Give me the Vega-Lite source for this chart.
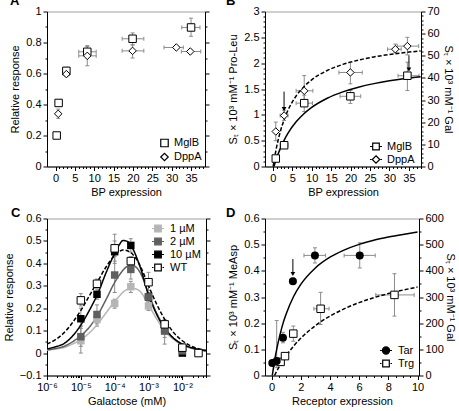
{
"$schema":"https://vega.github.io/schema/vega-lite/v6.json",
"background":"white",
"padding":{"left":2,"top":-5.5,"right":2,"bottom":2},
"columns":2,
"spacing":{"row":52,"column":59},
"bounds":"flush",
"align":"each",
"resolve":{"scale":{"fill":"independent","stroke":"independent","shape":"independent","color":"independent","strokeDash":"independent"},"legend":{"fill":"independent","stroke":"independent","shape":"independent","color":"independent","strokeDash":"independent"}},
"config":{
 "font":"Liberation Sans",
 "view":{"stroke":"#9e9e9e","strokeWidth":1},
 "axis":{"grid":false,"labelFontSize":11,"titleFontSize":11,"titleFontWeight":"normal","labelColor":"black","titleColor":"black","domainColor":"black","tickColor":"black","tickSize":4,"tickWidth":1,"domainWidth":1,"labelPadding":2,"titlePadding":4,"labelFlush":false,"labelOverlap":false,"labelBound":false,"labelFont":"Liberation Sans","titleFont":"Liberation Sans"},
 "legend":{"labelFontSize":11,"labelColor":"black","labelFont":"Liberation Sans","padding":0,"rowPadding":0,"labelOffset":4,"symbolStrokeWidth":1.2,"symbolOpacity":1},
 "title":{"fontSize":13,"fontWeight":"bold","color":"black","font":"Liberation Sans","anchor":"start","frame":"group"},
 "tick":{"thickness":1,"size":4,"opacity":1,"color":"#8c8c8c"}
},
"datasets":{
 "A":[
  {"s":"MglB","x":0.3,"y":0.2,"xlo":0.1,"xhi":0.5,"ylo":0.185,"yhi":0.215},
  {"s":"MglB","x":0.8,"y":0.41,"xlo":0.5,"xhi":1.1,"ylo":0.39,"yhi":0.43},
  {"s":"MglB","x":2.8,"y":0.617,"xlo":2.0,"xhi":3.6,"ylo":0.595,"yhi":0.64},
  {"s":"MglB","x":8.2,"y":0.74,"xlo":6.0,"xhi":10.5,"ylo":0.71,"yhi":0.775},
  {"s":"MglB","x":19.9,"y":0.824,"xlo":17.2,"xhi":22.8,"ylo":0.785,"yhi":0.862},
  {"s":"MglB","x":35,"y":0.897,"xlo":32.6,"xhi":37.3,"ylo":0.84,"yhi":0.957},
  {"s":"DppA","x":0.7,"y":0.34,"xlo":0.5,"xhi":0.9,"ylo":0.31,"yhi":0.37},
  {"s":"DppA","x":2.8,"y":0.596,"xlo":2.0,"xhi":3.6,"ylo":0.58,"yhi":0.615},
  {"s":"DppA","x":8.2,"y":0.714,"xlo":6.0,"xhi":10.5,"ylo":0.65,"yhi":0.78},
  {"s":"DppA","x":19.9,"y":0.746,"xlo":17.2,"xhi":22.8,"ylo":0.70,"yhi":0.785},
  {"s":"DppA","x":31.2,"y":0.768,"xlo":28.0,"xhi":33.0,"ylo":0.76,"yhi":0.776},
  {"s":"DppA","x":34.8,"y":0.742,"xlo":32.5,"xhi":37.5,"ylo":0.73,"yhi":0.755}
 ],
 "Bd":[
  {"x":0.77,"y":0.677,"xlo":0.5,"xhi":1.05,"ylo":0.5,"yhi":0.86},
  {"x":2.92,"y":0.987,"xlo":1.9,"xhi":3.9,"ylo":0.89,"yhi":1.09},
  {"x":8.08,"y":1.465,"xlo":6.0,"xhi":10.3,"ylo":1.18,"yhi":1.76},
  {"x":19.95,"y":1.82,"xlo":17.0,"xhi":23.0,"ylo":1.6,"yhi":2.02},
  {"x":31.5,"y":2.27,"xlo":29.5,"xhi":33.0,"ylo":2.2,"yhi":2.37},
  {"x":34.6,"y":2.33,"xlo":32.0,"xhi":37.5,"ylo":2.16,"yhi":2.5}
 ],
 "Bm":[
  {"x":0.77,"y":3.6,"xlo":0.5,"xhi":1.05,"ylo":2.5,"yhi":4.7},
  {"x":2.92,"y":9.6,"xlo":1.9,"xhi":3.9,"ylo":8.6,"yhi":10.6},
  {"x":8.08,"y":28.6,"xlo":6.0,"xhi":10.2,"ylo":24.8,"yhi":32.2},
  {"x":19.95,"y":31.7,"xlo":17.3,"xhi":22.6,"ylo":28.5,"yhi":34.3},
  {"x":34.6,"y":41.0,"xlo":32.2,"xhi":37.6,"ylo":34.3,"yhi":47.1}
 ],
 "Bcd":[{"x":0.1,"y":0},{"x":0.5,"y":0.186},{"x":1,"y":0.383},{"x":2,"y":0.692},{"x":3,"y":0.924},{"x":4,"y":1.103},{"x":6,"y":1.365},{"x":8,"y":1.545},{"x":10,"y":1.678},{"x":14,"y":1.858},{"x":18,"y":1.976},{"x":22,"y":2.059},{"x":26,"y":2.121},{"x":30,"y":2.168},{"x":34,"y":2.206},{"x":38,"y":2.236}],
 "Bcm":[{"x":0.3,"y":0},{"x":1,"y":3.85},{"x":2,"y":8.42},{"x":3,"y":12.16},{"x":4,"y":15.28},{"x":6,"y":20.17},{"x":8,"y":23.84},{"x":10,"y":26.69},{"x":14,"y":30.84},{"x":18,"y":33.71},{"x":22,"y":35.82},{"x":26,"y":37.43},{"x":30,"y":38.7},{"x":34,"y":39.73},{"x":38,"y":40.58}],
 "Bad":[{"x":2.9,"ytop":1.45,"ybot":1.11}],
 "Bam":[{"x":35.0,"ytop":50.2,"ybot":43.8}],
 "Cp":[
  {"s":"1 µM","x":1e-5,"y":0.055,"ylo":0.0,"yhi":0.12},
  {"s":"1 µM","x":3e-5,"y":0.15,"ylo":0.12,"yhi":0.18},
  {"s":"1 µM","x":1e-4,"y":0.221,"ylo":0.2,"yhi":0.24},
  {"s":"1 µM","x":3e-4,"y":0.296,"ylo":0.27,"yhi":0.32},
  {"s":"1 µM","x":1e-3,"y":0.21,"ylo":0.19,"yhi":0.23},
  {"s":"1 µM","x":3e-3,"y":0.1,"ylo":0.04,"yhi":0.13},
  {"s":"1 µM","x":1e-2,"y":0.02,"ylo":0.01,"yhi":0.03},
  {"s":"10 µM","x":1e-5,"y":0.153,"ylo":0.11,"yhi":0.2},
  {"s":"10 µM","x":3e-5,"y":0.262,"ylo":0.24,"yhi":0.285},
  {"s":"10 µM","x":1e-4,"y":0.452,"ylo":0.41,"yhi":0.5},
  {"s":"10 µM","x":3e-4,"y":0.48,"ylo":0.45,"yhi":0.51},
  {"s":"10 µM","x":1e-3,"y":0.25,"ylo":0.23,"yhi":0.27},
  {"s":"10 µM","x":3e-3,"y":0.105,"ylo":0.09,"yhi":0.12},
  {"s":"10 µM","x":1e-2,"y":0.0,"ylo":-0.01,"yhi":0.01},
  {"s":"2 µM","x":1e-5,"y":0.073,"ylo":0.03,"yhi":0.12},
  {"s":"2 µM","x":3e-5,"y":0.172,"ylo":0.13,"yhi":0.215},
  {"s":"2 µM","x":1e-4,"y":0.348,"ylo":0.27,"yhi":0.43},
  {"s":"2 µM","x":3e-4,"y":0.373,"ylo":0.33,"yhi":0.41},
  {"s":"2 µM","x":1e-3,"y":0.25,"ylo":0.23,"yhi":0.27},
  {"s":"2 µM","x":3e-3,"y":0.098,"ylo":0.07,"yhi":0.13},
  {"s":"2 µM","x":1e-2,"y":0.01,"ylo":0.0,"yhi":0.02},
  {"s":"WT","x":1e-5,"y":0.235,"ylo":0.21,"yhi":0.265},
  {"s":"WT","x":3e-5,"y":0.309,"ylo":0.29,"yhi":0.33},
  {"s":"WT","x":1e-4,"y":0.467,"ylo":0.4,"yhi":0.53},
  {"s":"WT","x":3e-4,"y":0.41,"ylo":0.39,"yhi":0.43},
  {"s":"WT","x":1e-3,"y":0.316,"ylo":0.28,"yhi":0.36},
  {"s":"WT","x":3e-3,"y":0.128,"ylo":0.1,"yhi":0.15},
  {"s":"WT","x":1e-2,"y":0.024,"ylo":0.01,"yhi":0.04},
  {"s":"WT","x":3e-2,"y":0.0,"ylo":-0.01,"yhi":0.01}
 ],
 "Cc":[
  {"s":"1 µM","x":1e-6,"y":0.012},{"s":"1 µM","x":1.778e-6,"y":0.018},{"s":"1 µM","x":3.162e-6,"y":0.025},{"s":"1 µM","x":5.623e-6,"y":0.04},{"s":"1 µM","x":1e-5,"y":0.06},{"s":"1 µM","x":1.778e-5,"y":0.09},{"s":"1 µM","x":3.162e-5,"y":0.13},{"s":"1 µM","x":5.623e-5,"y":0.18},{"s":"1 µM","x":1e-4,"y":0.23},{"s":"1 µM","x":1.334e-4,"y":0.252},{"s":"1 µM","x":1.778e-4,"y":0.272},{"s":"1 µM","x":2.371e-4,"y":0.284},{"s":"1 µM","x":3.162e-4,"y":0.29},{"s":"1 µM","x":5.623e-4,"y":0.275},{"s":"1 µM","x":1e-3,"y":0.215},{"s":"1 µM","x":1.778e-3,"y":0.15},{"s":"1 µM","x":3.162e-3,"y":0.095},{"s":"1 µM","x":5.623e-3,"y":0.06},{"s":"1 µM","x":1e-2,"y":0.035},{"s":"1 µM","x":1.778e-2,"y":0.022},{"s":"1 µM","x":3.162e-2,"y":0.013},{"s":"1 µM","x":5e-2,"y":0.009},
  {"s":"2 µM","x":1e-6,"y":0.015},{"s":"2 µM","x":1.778e-6,"y":0.02},{"s":"2 µM","x":3.162e-6,"y":0.03},{"s":"2 µM","x":5.623e-6,"y":0.05},{"s":"2 µM","x":1e-5,"y":0.077},{"s":"2 µM","x":1.778e-5,"y":0.115},{"s":"2 µM","x":3.162e-5,"y":0.17},{"s":"2 µM","x":5.623e-5,"y":0.24},{"s":"2 µM","x":1e-4,"y":0.315},{"s":"2 µM","x":1.334e-4,"y":0.345},{"s":"2 µM","x":1.778e-4,"y":0.37},{"s":"2 µM","x":2.371e-4,"y":0.387},{"s":"2 µM","x":3.162e-4,"y":0.392},{"s":"2 µM","x":5.623e-4,"y":0.36},{"s":"2 µM","x":1e-3,"y":0.265},{"s":"2 µM","x":1.778e-3,"y":0.175},{"s":"2 µM","x":3.162e-3,"y":0.11},{"s":"2 µM","x":5.623e-3,"y":0.065},{"s":"2 µM","x":1e-2,"y":0.04},{"s":"2 µM","x":1.778e-2,"y":0.024},{"s":"2 µM","x":3.162e-2,"y":0.015},{"s":"2 µM","x":5e-2,"y":0.01},
  {"s":"10 µM","x":1e-6,"y":0.019},{"s":"10 µM","x":1.778e-6,"y":0.028},{"s":"10 µM","x":3.162e-6,"y":0.042},{"s":"10 µM","x":5.623e-6,"y":0.075},{"s":"10 µM","x":1e-5,"y":0.125},{"s":"10 µM","x":1.778e-5,"y":0.19},{"s":"10 µM","x":3.162e-5,"y":0.265},{"s":"10 µM","x":5.623e-5,"y":0.36},{"s":"10 µM","x":1e-4,"y":0.445},{"s":"10 µM","x":1.334e-4,"y":0.48},{"s":"10 µM","x":1.778e-4,"y":0.502},{"s":"10 µM","x":2.371e-4,"y":0.498},{"s":"10 µM","x":3.162e-4,"y":0.475},{"s":"10 µM","x":5.623e-4,"y":0.385},{"s":"10 µM","x":1e-3,"y":0.26},{"s":"10 µM","x":1.778e-3,"y":0.17},{"s":"10 µM","x":3.162e-3,"y":0.105},{"s":"10 µM","x":5.623e-3,"y":0.065},{"s":"10 µM","x":1e-2,"y":0.04},{"s":"10 µM","x":1.778e-2,"y":0.025},{"s":"10 µM","x":3.162e-2,"y":0.016},{"s":"10 µM","x":5e-2,"y":0.011},
  {"s":"WT","x":1e-6,"y":0.04},{"s":"WT","x":1.778e-6,"y":0.06},{"s":"WT","x":3.162e-6,"y":0.09},{"s":"WT","x":5.623e-6,"y":0.135},{"s":"WT","x":1e-5,"y":0.19},{"s":"WT","x":1.778e-5,"y":0.255},{"s":"WT","x":3.162e-5,"y":0.32},{"s":"WT","x":5.623e-5,"y":0.385},{"s":"WT","x":1e-4,"y":0.435},{"s":"WT","x":1.334e-4,"y":0.452},{"s":"WT","x":1.778e-4,"y":0.46},{"s":"WT","x":2.371e-4,"y":0.456},{"s":"WT","x":3.162e-4,"y":0.445},{"s":"WT","x":5.623e-4,"y":0.39},{"s":"WT","x":1e-3,"y":0.3},{"s":"WT","x":1.778e-3,"y":0.215},{"s":"WT","x":3.162e-3,"y":0.145},{"s":"WT","x":5.623e-3,"y":0.09},{"s":"WT","x":1e-2,"y":0.055},{"s":"WT","x":1.778e-2,"y":0.032},{"s":"WT","x":3.162e-2,"y":0.018},{"s":"WT","x":5e-2,"y":0.012}
 ],
 "Dt":[
  {"x":0.05,"y":0.048,"xlo":0.0,"xhi":0.1,"ylo":0.042,"yhi":0.054},
  {"x":0.35,"y":0.055,"xlo":0.22,"xhi":0.48,"ylo":0.03,"yhi":0.21},
  {"x":0.78,"y":0.144,"xlo":0.66,"xhi":0.9,"ylo":0.125,"yhi":0.165},
  {"x":1.46,"y":0.36,"xlo":1.26,"xhi":1.66,"ylo":0.348,"yhi":0.372},
  {"x":2.97,"y":0.459,"xlo":2.22,"xhi":3.7,"ylo":0.43,"yhi":0.488},
  {"x":6.04,"y":0.459,"xlo":4.97,"xhi":7.1,"ylo":0.411,"yhi":0.507}
 ],
 "Dg":[
  {"x":0.62,"y":52,"xlo":0.5,"xhi":0.75,"ylo":40,"yhi":64},
  {"x":0.92,"y":74,"xlo":0.8,"xhi":1.05,"ylo":64,"yhi":84},
  {"x":1.49,"y":160,"xlo":1.3,"xhi":1.7,"ylo":131,"yhi":189},
  {"x":3.36,"y":255,"xlo":2.9,"xhi":3.94,"ylo":195,"yhi":318},
  {"x":8.42,"y":308,"xlo":7.14,"xhi":9.77,"ylo":227,"yhi":389}
 ],
 "Dct":[{"x":0.05,"y":0},{"x":0.2,"y":0.054},{"x":0.4,"y":0.113},{"x":0.6,"y":0.161},{"x":0.8,"y":0.202},{"x":1,"y":0.235},{"x":1.5,"y":0.301},{"x":2,"y":0.348},{"x":3,"y":0.411},{"x":4,"y":0.452},{"x":5,"y":0.48},{"x":6,"y":0.501},{"x":7,"y":0.517},{"x":8,"y":0.529},{"x":9,"y":0.539},{"x":10,"y":0.548}],
 "Dcg":[{"x":0.2,"y":0},{"x":0.5,"y":31.3},{"x":1,"y":75.3},{"x":1.5,"y":111.7},{"x":2,"y":142.2},{"x":3,"y":190.4},{"x":4,"y":226.9},{"x":5,"y":255.5},{"x":6,"y":278.5},{"x":7,"y":297.3},{"x":8,"y":313.1},{"x":9,"y":326.5},{"x":10,"y":338.0}],
 "Da":[{"x":1.46,"ytop":0.445,"ybot":0.388}],
 "LA":[{"s":"MglB"},{"s":"DppA"}],
 "LC":[{"s":"1 µM"},{"s":"2 µM"},{"s":"10 µM"},{"s":"WT"}],
 "LD":[{"s":"Tar"},{"s":"Trg"}]
},
"concat":[
 {
  "width":158,"height":155,
  "title":{"text":"A","dx":-37,"offset":-2.5},
  "resolve":{"axis":{"x":"independent","y":"independent"}},
  "layer":[
   {"data":{"name":"A"},"mark":{"type":"rule","color":"#8c8c8c"},
    "encoding":{
     "x":{"field":"xlo","type":"quantitative","scale":{"domain":[-2.2,38.6],"nice":false,"zero":false},
      "axis":{"orient":"bottom","labelOverlap":false,"values":[0,1,2,3,4,5,6,7,8,9,10,11,12,13,14,15,16,17,18,19,20,21,22,23,24,25,26,27,28,29,30,31,32,33,34,35,36,37,38],"format":"~r","labelExpr":"datum.value % 5 == 0 ? datum.label : ''","tickDash":{"condition":{"test":"datum.value % 5 == 0","value":[4,0]},"value":[2,2]},"title":"BP expression","titlePadding":3}},
     "x2":{"field":"xhi"},
     "y":{"field":"y","type":"quantitative","scale":{"domain":[0,1],"nice":false,"zero":false},
      "axis":{"orient":"left","labelOverlap":false,"values":[0,0.1,0.2,0.3,0.4,0.5,0.6,0.7,0.8,0.9,1],"format":"~r","labelExpr":"round(datum.value*10) % 2 == 0 ? datum.label : ''","tickDash":{"condition":{"test":"round(datum.value*10) % 2 == 0","value":[4,0]},"value":[2,2]},"title":"Relative response","titlePadding":5}}}},
   {"data":{"name":"A"},"mark":{"type":"rule","color":"#8c8c8c"},
    "encoding":{
     "x":{"field":"x","type":"quantitative","scale":{"domain":[-2.2,38.6],"nice":false,"zero":false},"axis":null},
     "y":{"field":"ylo","type":"quantitative","scale":{"domain":[0,1],"nice":false,"zero":false},
      "axis":{"orient":"right","labelOverlap":false,"values":[0,0.1,0.2,0.3,0.4,0.5,0.6,0.7,0.8,0.9,1],"labels":false,"tickDash":{"condition":{"test":"round(datum.value*10) % 2 == 0","value":[4,0]},"value":[2,2]},"title":null}},
     "y2":{"field":"yhi"}}},
   {"data":{"name":"A"},"mark":{"type":"tick","orient":"vertical"},
    "encoding":{"x":{"field":"xlo","type":"quantitative","axis":null},"y":{"field":"y","type":"quantitative","axis":null}}},
   {"data":{"name":"A"},"mark":{"type":"tick","orient":"vertical"},
    "encoding":{"x":{"field":"xhi","type":"quantitative","axis":null},"y":{"field":"y","type":"quantitative","axis":null}}},
   {"data":{"name":"A"},"mark":{"type":"tick","orient":"horizontal"},
    "encoding":{"x":{"field":"x","type":"quantitative","axis":null},"y":{"field":"ylo","type":"quantitative","axis":null}}},
   {"data":{"name":"A"},"mark":{"type":"tick","orient":"horizontal"},
    "encoding":{"x":{"field":"x","type":"quantitative","axis":null},"y":{"field":"yhi","type":"quantitative","axis":null}}},
   {"data":{"name":"A"},"mark":{"type":"point","filled":true,"fill":"white","stroke":"black","strokeWidth":1,"size":56,"opacity":1},
    "encoding":{
     "x":{"field":"x","type":"quantitative","scale":{"domain":[-2.2,38.6],"nice":false,"zero":false},"axis":null},
     "y":{"field":"y","type":"quantitative","scale":{"domain":[0,1],"nice":false,"zero":false},"axis":null},
     "shape":{"field":"s","type":"nominal","scale":{"domain":["MglB","DppA"],"range":["square","diamond"]}}}},
   {"data":{"name":"LA"},"mark":{"type":"point","filled":true,"opacity":0},
    "encoding":{
     "fill":{"field":"s","type":"nominal","scale":{"domain":["MglB","DppA"],"range":["white","white"]},"legend":{"orient":"none","legendX":112,"legendY":126,"title":null,"symbolSize":56,"rowPadding":1,"labelOffset":4}},
     "stroke":{"field":"s","type":"nominal","scale":{"domain":["MglB","DppA"],"range":["black","black"]},"legend":{"orient":"none","legendX":112,"legendY":126,"title":null,"symbolSize":56,"rowPadding":1,"labelOffset":4}},
     "shape":{"field":"s","type":"nominal","scale":{"domain":["MglB","DppA"],"range":["square","diamond"]},"legend":{"orient":"none","legendX":112,"legendY":126,"title":null,"symbolSize":56,"rowPadding":1,"labelOffset":4}}}}
  ]
 },
 {
  "width":156,"height":155,
  "title":{"text":"B","dx":-39,"offset":-2.5},
  "resolve":{"scale":{"y":"independent"},"axis":{"x":"independent","y":"independent"}},
  "layer":[
   {"data":{"name":"Bd"},"mark":{"type":"rule","color":"#8c8c8c"},
    "encoding":{
     "x":{"field":"xlo","type":"quantitative","scale":{"domain":[-2,38.1],"nice":false,"zero":false},
      "axis":{"orient":"bottom","labelOverlap":false,"values":[0,1,2,3,4,5,6,7,8,9,10,11,12,13,14,15,16,17,18,19,20,21,22,23,24,25,26,27,28,29,30,31,32,33,34,35,36,37,38],"format":"~r","labelExpr":"datum.value % 5 == 0 ? datum.label : ''","tickDash":{"condition":{"test":"datum.value % 5 == 0","value":[4,0]},"value":[2,2]},"title":"BP expression","titlePadding":3}},
     "x2":{"field":"xhi"},
     "y":{"field":"y","type":"quantitative","scale":{"domain":[0,3],"nice":false,"zero":false},
      "axis":{"orient":"left","labelOverlap":false,"values":[0,0.1,0.2,0.3,0.4,0.5,0.6,0.7,0.8,0.9,1,1.1,1.2,1.3,1.4,1.5,1.6,1.7,1.8,1.9,2,2.1,2.2,2.3,2.4,2.5,2.6,2.7,2.8,2.9,3],"format":"~r","labelExpr":"round(datum.value*10) % 5 == 0 ? datum.label : ''","tickDash":{"condition":{"test":"round(datum.value*10) % 5 == 0","value":[4,0]},"value":[2,2]},"title":"Sₜ × 10³ mM⁻¹ Pro-Leu","titlePadding":5}}}},
   {"data":{"name":"Bd"},"mark":{"type":"rule","color":"#8c8c8c"},
    "encoding":{
     "x":{"field":"x","type":"quantitative","axis":null},
     "y":{"field":"ylo","type":"quantitative","scale":{"domain":[0,3],"nice":false,"zero":false},"axis":null},
     "y2":{"field":"yhi"}}},
   {"data":{"name":"Bd"},"mark":{"type":"tick","orient":"vertical"},
    "encoding":{"x":{"field":"xlo","type":"quantitative","axis":null},"y":{"field":"y","type":"quantitative","scale":{"domain":[0,3],"nice":false,"zero":false},"axis":null}}},
   {"data":{"name":"Bd"},"mark":{"type":"tick","orient":"vertical"},
    "encoding":{"x":{"field":"xhi","type":"quantitative","axis":null},"y":{"field":"y","type":"quantitative","scale":{"domain":[0,3],"nice":false,"zero":false},"axis":null}}},
   {"data":{"name":"Bd"},"mark":{"type":"tick","orient":"horizontal"},
    "encoding":{"x":{"field":"x","type":"quantitative","axis":null},"y":{"field":"ylo","type":"quantitative","scale":{"domain":[0,3],"nice":false,"zero":false},"axis":null}}},
   {"data":{"name":"Bd"},"mark":{"type":"tick","orient":"horizontal"},
    "encoding":{"x":{"field":"x","type":"quantitative","axis":null},"y":{"field":"yhi","type":"quantitative","scale":{"domain":[0,3],"nice":false,"zero":false},"axis":null}}},
   {"data":{"name":"Bm"},"mark":{"type":"rule","color":"#8c8c8c"},
    "encoding":{
     "x":{"field":"xlo","type":"quantitative","axis":null},
     "x2":{"field":"xhi"},
     "y":{"field":"y","type":"quantitative","scale":{"domain":[0,70],"nice":false,"zero":false},
      "axis":{"orient":"right","labelOverlap":false,"values":[0,2,4,6,8,10,12,14,16,18,20,22,24,26,28,30,32,34,36,38,40,42,44,46,48,50,52,54,56,58,60,62,64,66,68,70],"format":"~r","labelExpr":"datum.value % 10 == 0 ? datum.label : ''","tickDash":{"condition":{"test":"datum.value % 10 == 0","value":[4,0]},"value":[2,2]},"title":"Sₜ × 10³ mM⁻¹ Gal","titlePadding":3}}}},
   {"data":{"name":"Bm"},"mark":{"type":"rule","color":"#8c8c8c"},
    "encoding":{
     "x":{"field":"x","type":"quantitative","axis":null},
     "y":{"field":"ylo","type":"quantitative","scale":{"domain":[0,70],"nice":false,"zero":false},"axis":null},
     "y2":{"field":"yhi"}}},
   {"data":{"name":"Bm"},"mark":{"type":"tick","orient":"vertical"},
    "encoding":{"x":{"field":"xlo","type":"quantitative","axis":null},"y":{"field":"y","type":"quantitative","scale":{"domain":[0,70],"nice":false,"zero":false},"axis":null}}},
   {"data":{"name":"Bm"},"mark":{"type":"tick","orient":"vertical"},
    "encoding":{"x":{"field":"xhi","type":"quantitative","axis":null},"y":{"field":"y","type":"quantitative","scale":{"domain":[0,70],"nice":false,"zero":false},"axis":null}}},
   {"data":{"name":"Bm"},"mark":{"type":"tick","orient":"horizontal"},
    "encoding":{"x":{"field":"x","type":"quantitative","axis":null},"y":{"field":"ylo","type":"quantitative","scale":{"domain":[0,70],"nice":false,"zero":false},"axis":null}}},
   {"data":{"name":"Bm"},"mark":{"type":"tick","orient":"horizontal"},
    "encoding":{"x":{"field":"x","type":"quantitative","axis":null},"y":{"field":"yhi","type":"quantitative","scale":{"domain":[0,70],"nice":false,"zero":false},"axis":null}}},
   {"data":{"name":"Bcm"},"mark":{"type":"line","color":"black","strokeWidth":1.5,"interpolate":"monotone"},
    "encoding":{
     "x":{"field":"x","type":"quantitative","axis":null},
     "y":{"field":"y","type":"quantitative","scale":{"domain":[0,70],"nice":false,"zero":false},"axis":null}}},
   {"data":{"name":"Bcd"},"mark":{"type":"line","color":"black","strokeWidth":1.5,"strokeDash":[4,2],"interpolate":"monotone"},
    "encoding":{
     "x":{"field":"x","type":"quantitative","axis":null},
     "y":{"field":"y","type":"quantitative","scale":{"domain":[0,3],"nice":false,"zero":false},"axis":null}}},
   {"data":{"name":"Bm"},"mark":{"type":"point","shape":"square","filled":true,"fill":"white","stroke":"black","strokeWidth":1,"size":56,"opacity":1},
    "encoding":{
     "x":{"field":"x","type":"quantitative","axis":null},
     "y":{"field":"y","type":"quantitative","scale":{"domain":[0,70],"nice":false,"zero":false},"axis":null}}},
   {"data":{"name":"Bd"},"mark":{"type":"point","shape":"diamond","filled":true,"fill":"white","stroke":"black","strokeWidth":1,"size":56,"opacity":1},
    "encoding":{
     "x":{"field":"x","type":"quantitative","axis":null},
     "y":{"field":"y","type":"quantitative","scale":{"domain":[0,3],"nice":false,"zero":false},"axis":null}}},
   {"data":{"name":"Bad"},"mark":{"type":"rule","color":"black","strokeWidth":1},
    "encoding":{
     "x":{"field":"x","type":"quantitative","axis":null},
     "y":{"field":"ytop","type":"quantitative","scale":{"domain":[0,3],"nice":false,"zero":false},"axis":null},
     "y2":{"field":"ybot"}}},
   {"data":{"name":"Bad"},"mark":{"type":"point","shape":"triangle-down","filled":true,"color":"black","size":22,"opacity":1},
    "encoding":{
     "x":{"field":"x","type":"quantitative","axis":null},
     "y":{"field":"ybot","type":"quantitative","scale":{"domain":[0,3],"nice":false,"zero":false},"axis":null}}},
   {"data":{"name":"Bam"},"mark":{"type":"rule","color":"black","strokeWidth":1},
    "encoding":{
     "x":{"field":"x","type":"quantitative","axis":null},
     "y":{"field":"ytop","type":"quantitative","scale":{"domain":[0,70],"nice":false,"zero":false},"axis":null},
     "y2":{"field":"ybot"}}},
   {"data":{"name":"Bam"},"mark":{"type":"point","shape":"triangle-down","filled":true,"color":"black","size":22,"opacity":1},
    "encoding":{
     "x":{"field":"x","type":"quantitative","axis":null},
     "y":{"field":"ybot","type":"quantitative","scale":{"domain":[0,70],"nice":false,"zero":false},"axis":null}}},
   {"data":{"name":"LA"},"mark":{"type":"point","filled":true,"opacity":0},
    "encoding":{
     "fill":{"field":"s","type":"nominal","scale":{"domain":["MglB","DppA"],"range":["white","white"]},"legend":{"orient":"none","legendX":104,"legendY":128,"title":null,"symbolSize":144,"rowPadding":-1,"labelOffset":4}},
     "stroke":{"field":"s","type":"nominal","scale":{"domain":["MglB","DppA"],"range":["black","black"]},"legend":{"orient":"none","legendX":104,"legendY":128,"title":null,"symbolSize":144,"rowPadding":-1,"labelOffset":4}},
     "shape":{"field":"s","type":"nominal","scale":{"domain":["MglB","DppA"],"range":["M-1,0H-0.55M0.55,0H1M-0.55,-0.55H0.55V0.55H-0.55Z","M-1,0H-0.75M0.75,0H1M0,-0.62L0.62,0L0,0.62L-0.62,0Z"]},"legend":{"orient":"none","legendX":104,"legendY":128,"title":null,"symbolSize":144,"rowPadding":-1,"labelOffset":4}}}}
  ]
 },
 {
  "width":159,"height":157,
  "title":{"text":"C","dx":-36,"offset":-7},
  "resolve":{"axis":{"x":"independent","y":"independent"}},
  "layer":[
   {"data":{"name":"Cp"},"mark":{"type":"rule","color":"#8c8c8c"},
    "encoding":{
     "x":{"field":"x","type":"quantitative","scale":{"type":"log","domain":[1e-6,0.05],"nice":false},
      "axis":{"orient":"bottom","labelOverlap":false,"values":[1e-6,2e-6,3e-6,4e-6,5e-6,6e-6,7e-6,8e-6,9e-6,1e-5,2e-5,3e-5,4e-5,5e-5,6e-5,7e-5,8e-5,9e-5,1e-4,2e-4,3e-4,4e-4,5e-4,6e-4,7e-4,8e-4,9e-4,1e-3,2e-3,3e-3,4e-3,5e-3,6e-3,7e-3,8e-3,9e-3,1e-2,2e-2,3e-2,4e-2,5e-2],"labelExpr":"abs(log(datum.value)/LN10 - round(log(datum.value)/LN10)) < 0.01 ? '10⁻' + substring('⁰¹²³⁴⁵⁶⁷⁸⁹', -round(log(datum.value)/LN10), 1 - round(log(datum.value)/LN10)) : ''","tickDash":{"condition":{"test":"abs(log(datum.value)/LN10 - round(log(datum.value)/LN10)) < 0.01","value":[4,0]},"value":[2,2]},"title":"Galactose (mM)","titlePadding":3}},
     "y":{"field":"ylo","type":"quantitative","scale":{"domain":[-0.1,0.6],"nice":false,"zero":false},
      "axis":{"orient":"left","labelOverlap":false,"values":[-0.1,-0.05,0,0.05,0.1,0.15,0.2,0.25,0.3,0.35,0.4,0.45,0.5,0.55,0.6],"format":"~r","labelExpr":"round(datum.value*20) % 2 == 0 ? datum.label : ''","tickDash":{"condition":{"test":"round(datum.value*20) % 2 == 0","value":[4,0]},"value":[2,2]},"title":"Relative response","titlePadding":5}},
     "y2":{"field":"yhi"}}},
   {"data":{"name":"Cp"},"mark":{"type":"tick","orient":"horizontal"},
    "encoding":{"x":{"field":"x","type":"quantitative","scale":{"type":"log","domain":[1e-6,0.05],"nice":false},"axis":null},"y":{"field":"ylo","type":"quantitative","scale":{"domain":[-0.1,0.6],"nice":false,"zero":false},"axis":null}}},
   {"data":{"name":"Cp"},"mark":{"type":"tick","orient":"horizontal"},
    "encoding":{"x":{"field":"x","type":"quantitative","scale":{"type":"log","domain":[1e-6,0.05],"nice":false},"axis":null},"y":{"field":"yhi","type":"quantitative","scale":{"domain":[-0.1,0.6],"nice":false,"zero":false},"axis":null}}},
   {"data":{"name":"Cc"},"mark":{"type":"line","strokeWidth":1.5,"interpolate":"monotone"},
    "encoding":{
     "x":{"field":"x","type":"quantitative","scale":{"type":"log","domain":[1e-6,0.05],"nice":false},"axis":null},
     "y":{"field":"y","type":"quantitative","scale":{"domain":[-0.1,0.6],"nice":false,"zero":false},
      "axis":{"orient":"right","labelOverlap":false,"values":[-0.1,-0.05,0,0.05,0.1,0.15,0.2,0.25,0.3,0.35,0.4,0.45,0.5,0.55,0.6],"labels":false,"tickDash":{"condition":{"test":"round(datum.value*20) % 2 == 0","value":[4,0]},"value":[2,2]},"title":null}},
     "color":{"field":"s","type":"nominal","scale":{"domain":["WT","10 µM","2 µM","1 µM"],"range":["#000000","#000000","#5f5f5f","#b5b5b5"]},"legend":null},
     "strokeDash":{"field":"s","type":"nominal","scale":{"domain":["WT","10 µM","2 µM","1 µM"],"range":[[4,2],[1,0],[1,0],[1,0]]},"legend":null}}},
   {"data":{"name":"Cp"},"transform":[{"filter":"datum.s != 'WT'"}],"mark":{"type":"point","shape":"square","filled":true,"size":56,"opacity":1},
    "encoding":{
     "x":{"field":"x","type":"quantitative","scale":{"type":"log","domain":[1e-6,0.05],"nice":false},"axis":null},
     "y":{"field":"y","type":"quantitative","scale":{"domain":[-0.1,0.6],"nice":false,"zero":false},"axis":null},
     "color":{"field":"s","type":"nominal","legend":null}}},
   {"data":{"name":"Cp"},"transform":[{"filter":"datum.s == 'WT'"}],"mark":{"type":"point","shape":"square","filled":true,"fill":"white","stroke":"black","strokeWidth":1,"size":56,"opacity":1},
    "encoding":{
     "x":{"field":"x","type":"quantitative","scale":{"type":"log","domain":[1e-6,0.05],"nice":false},"axis":null},
     "y":{"field":"y","type":"quantitative","scale":{"domain":[-0.1,0.6],"nice":false,"zero":false},"axis":null}}},
   {"data":{"name":"LC"},"mark":{"type":"point","filled":true,"opacity":0},
    "encoding":{
     "fill":{"field":"s","type":"nominal","scale":{"domain":["1 µM","2 µM","10 µM","WT"],"range":["#b5b5b5","#5f5f5f","#000000","#ffffff"]},"legend":{"orient":"none","legendX":104,"legendY":3,"title":null,"symbolSize":144,"rowPadding":-1,"labelOffset":5}},
     "stroke":{"field":"s","type":"nominal","scale":{"domain":["1 µM","2 µM","10 µM","WT"],"range":["#b5b5b5","#5f5f5f","#000000","#000000"]},"legend":{"orient":"none","legendX":104,"legendY":3,"title":null,"symbolSize":144,"rowPadding":-1,"labelOffset":5}},
     "shape":{"field":"s","type":"nominal","scale":{"domain":["1 µM","2 µM","10 µM","WT"],"range":["M-1,0H-0.55M0.55,0H1M-0.55,-0.55H0.55V0.55H-0.55Z","M-1,0H-0.55M0.55,0H1M-0.55,-0.55H0.55V0.55H-0.55Z","M-1,0H-0.55M0.55,0H1M-0.55,-0.55H0.55V0.55H-0.55Z","M-1,0H-0.75M0.75,0H1M-0.55,-0.55H0.55V0.55H-0.55Z"]},"legend":{"orient":"none","legendX":104,"legendY":3,"title":null,"symbolSize":144,"rowPadding":-1,"labelOffset":5}}}}
  ]
 },
 {
  "width":154,"height":157,
  "title":{"text":"D","dx":-39,"offset":-7},
  "resolve":{"scale":{"y":"independent"},"axis":{"x":"independent","y":"independent"}},
  "layer":[
   {"data":{"name":"Dt"},"mark":{"type":"rule","color":"#8c8c8c"},
    "encoding":{
     "x":{"field":"xlo","type":"quantitative","scale":{"domain":[-0.45,10.1],"nice":false,"zero":false},
      "axis":{"orient":"bottom","labelOverlap":false,"values":[0,0.5,1,1.5,2,2.5,3,3.5,4,4.5,5,5.5,6,6.5,7,7.5,8,8.5,9,9.5,10],"format":"~r","labelExpr":"datum.value % 2 == 0 ? datum.label : ''","tickDash":{"condition":{"test":"datum.value % 2 == 0","value":[4,0]},"value":[2,2]},"title":"Receptor expression","titlePadding":3}},
     "x2":{"field":"xhi"},
     "y":{"field":"y","type":"quantitative","scale":{"domain":[0,0.6],"nice":false,"zero":false},
      "axis":{"orient":"left","labelOverlap":false,"values":[0,0.05,0.1,0.15,0.2,0.25,0.3,0.35,0.4,0.45,0.5,0.55,0.6],"format":"~r","labelExpr":"round(datum.value*20) % 2 == 0 ? datum.label : ''","tickDash":{"condition":{"test":"round(datum.value*20) % 2 == 0","value":[4,0]},"value":[2,2]},"title":"Sₜ × 10³ mM⁻¹ MeAsp","titlePadding":5}}}},
   {"data":{"name":"Dt"},"mark":{"type":"rule","color":"#8c8c8c"},
    "encoding":{
     "x":{"field":"x","type":"quantitative","axis":null},
     "y":{"field":"ylo","type":"quantitative","scale":{"domain":[0,0.6],"nice":false,"zero":false},"axis":null},
     "y2":{"field":"yhi"}}},
   {"data":{"name":"Dt"},"mark":{"type":"tick","orient":"vertical"},
    "encoding":{"x":{"field":"xlo","type":"quantitative","axis":null},"y":{"field":"y","type":"quantitative","scale":{"domain":[0,0.6],"nice":false,"zero":false},"axis":null}}},
   {"data":{"name":"Dt"},"mark":{"type":"tick","orient":"vertical"},
    "encoding":{"x":{"field":"xhi","type":"quantitative","axis":null},"y":{"field":"y","type":"quantitative","scale":{"domain":[0,0.6],"nice":false,"zero":false},"axis":null}}},
   {"data":{"name":"Dt"},"mark":{"type":"tick","orient":"horizontal"},
    "encoding":{"x":{"field":"x","type":"quantitative","axis":null},"y":{"field":"ylo","type":"quantitative","scale":{"domain":[0,0.6],"nice":false,"zero":false},"axis":null}}},
   {"data":{"name":"Dt"},"mark":{"type":"tick","orient":"horizontal"},
    "encoding":{"x":{"field":"x","type":"quantitative","axis":null},"y":{"field":"yhi","type":"quantitative","scale":{"domain":[0,0.6],"nice":false,"zero":false},"axis":null}}},
   {"data":{"name":"Dg"},"mark":{"type":"rule","color":"#8c8c8c"},
    "encoding":{
     "x":{"field":"xlo","type":"quantitative","axis":null},
     "x2":{"field":"xhi"},
     "y":{"field":"y","type":"quantitative","scale":{"domain":[0,600],"nice":false,"zero":false},
      "axis":{"orient":"right","labelOverlap":false,"values":[0,50,100,150,200,250,300,350,400,450,500,550,600],"format":"~r","labelExpr":"datum.value % 100 == 0 ? datum.label : ''","tickDash":{"condition":{"test":"datum.value % 100 == 0","value":[4,0]},"value":[2,2]},"title":"Sₜ × 10³ mM⁻¹ Gal","titlePadding":1}}}},
   {"data":{"name":"Dg"},"mark":{"type":"rule","color":"#8c8c8c"},
    "encoding":{
     "x":{"field":"x","type":"quantitative","axis":null},
     "y":{"field":"ylo","type":"quantitative","scale":{"domain":[0,600],"nice":false,"zero":false},"axis":null},
     "y2":{"field":"yhi"}}},
   {"data":{"name":"Dg"},"mark":{"type":"tick","orient":"vertical"},
    "encoding":{"x":{"field":"xlo","type":"quantitative","axis":null},"y":{"field":"y","type":"quantitative","scale":{"domain":[0,600],"nice":false,"zero":false},"axis":null}}},
   {"data":{"name":"Dg"},"mark":{"type":"tick","orient":"vertical"},
    "encoding":{"x":{"field":"xhi","type":"quantitative","axis":null},"y":{"field":"y","type":"quantitative","scale":{"domain":[0,600],"nice":false,"zero":false},"axis":null}}},
   {"data":{"name":"Dg"},"mark":{"type":"tick","orient":"horizontal"},
    "encoding":{"x":{"field":"x","type":"quantitative","axis":null},"y":{"field":"ylo","type":"quantitative","scale":{"domain":[0,600],"nice":false,"zero":false},"axis":null}}},
   {"data":{"name":"Dg"},"mark":{"type":"tick","orient":"horizontal"},
    "encoding":{"x":{"field":"x","type":"quantitative","axis":null},"y":{"field":"yhi","type":"quantitative","scale":{"domain":[0,600],"nice":false,"zero":false},"axis":null}}},
   {"data":{"name":"Dct"},"mark":{"type":"line","color":"black","strokeWidth":1.5,"interpolate":"monotone"},
    "encoding":{
     "x":{"field":"x","type":"quantitative","axis":null},
     "y":{"field":"y","type":"quantitative","scale":{"domain":[0,0.6],"nice":false,"zero":false},"axis":null}}},
   {"data":{"name":"Dcg"},"mark":{"type":"line","color":"black","strokeWidth":1.5,"strokeDash":[4,2],"interpolate":"monotone"},
    "encoding":{
     "x":{"field":"x","type":"quantitative","axis":null},
     "y":{"field":"y","type":"quantitative","scale":{"domain":[0,600],"nice":false,"zero":false},"axis":null}}},
   {"data":{"name":"Dg"},"mark":{"type":"point","shape":"square","filled":true,"fill":"white","stroke":"black","strokeWidth":1,"size":56,"opacity":1},
    "encoding":{
     "x":{"field":"x","type":"quantitative","axis":null},
     "y":{"field":"y","type":"quantitative","scale":{"domain":[0,600],"nice":false,"zero":false},"axis":null}}},
   {"data":{"name":"Dt"},"mark":{"type":"point","shape":"circle","filled":true,"color":"black","size":64,"opacity":1},
    "encoding":{
     "x":{"field":"x","type":"quantitative","axis":null},
     "y":{"field":"y","type":"quantitative","scale":{"domain":[0,0.6],"nice":false,"zero":false},"axis":null}}},
   {"data":{"name":"Da"},"mark":{"type":"rule","color":"black","strokeWidth":1},
    "encoding":{
     "x":{"field":"x","type":"quantitative","axis":null},
     "y":{"field":"ytop","type":"quantitative","scale":{"domain":[0,0.6],"nice":false,"zero":false},"axis":null},
     "y2":{"field":"ybot"}}},
   {"data":{"name":"Da"},"mark":{"type":"point","shape":"triangle-down","filled":true,"color":"black","size":22,"opacity":1},
    "encoding":{
     "x":{"field":"x","type":"quantitative","axis":null},
     "y":{"field":"ybot","type":"quantitative","scale":{"domain":[0,0.6],"nice":false,"zero":false},"axis":null}}},
   {"data":{"name":"LD"},"mark":{"type":"point","filled":true,"opacity":0},
    "encoding":{
     "fill":{"field":"s","type":"nominal","scale":{"domain":["Tar","Trg"],"range":["#000000","#ffffff"]},"legend":{"orient":"none","legendX":114,"legendY":125,"title":null,"symbolSize":144,"rowPadding":-1,"labelOffset":5}},
     "stroke":{"field":"s","type":"nominal","scale":{"domain":["Tar","Trg"],"range":["#000000","#000000"]},"legend":{"orient":"none","legendX":114,"legendY":125,"title":null,"symbolSize":144,"rowPadding":-1,"labelOffset":5}},
     "shape":{"field":"s","type":"nominal","scale":{"domain":["Tar","Trg"],"range":["M-1,0H-0.6M0.6,0H1M-0.6,0A0.6,0.6 0 1,0 0.6,0A0.6,0.6 0 1,0 -0.6,0Z","M-1,0H-0.75M0.75,0H1M-0.55,-0.55H0.55V0.55H-0.55Z"]},"legend":{"orient":"none","legendX":114,"legendY":125,"title":null,"symbolSize":144,"rowPadding":-1,"labelOffset":5}}}}
  ]
 }
]
}
